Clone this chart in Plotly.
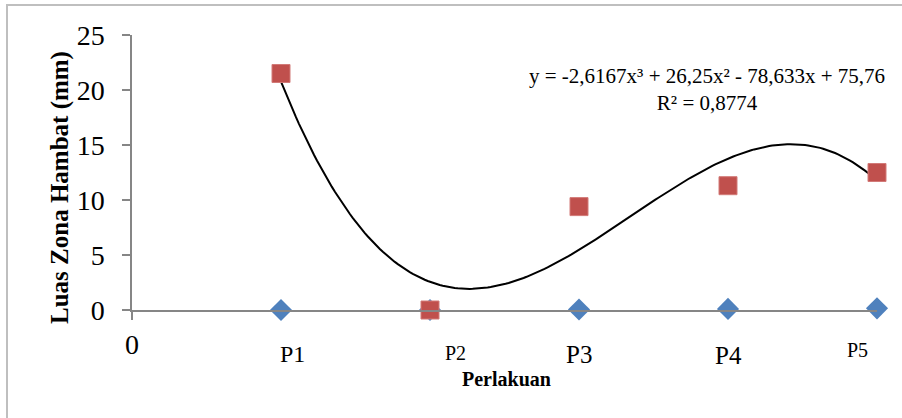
import numpy as np
import plotly.graph_objects as go

# ---- data ----
x_pos = [1, 2, 3, 4, 5]
categories = ["P1", "P2", "P3", "P4", "P5"]
kontrol = [0, 0, 0.05, 0.1, 0.15]          # blue diamonds
luas_zona = [21.5, 0, 9.4, 11.3, 12.5]      # red squares
trend_coef = [-2.6167, 26.25, -78.633, 75.76]  # cubic trendline, as printed
eq_text = "y = -2,6167x³ + 26,25x² - 78,633x + 75,76<br>R² = 0,8774"
y_ticks = [0, 5, 10, 15, 20, 25]

serif = "Liberation Serif, Times New Roman, serif"

fig = go.Figure()

xt = np.linspace(1, 5, 200)
fig.add_trace(go.Scatter(x=xt, y=np.polyval(trend_coef, xt), mode="lines",
                         line=dict(color="black", width=2), hoverinfo="skip",
                         showlegend=False))
fig.add_trace(go.Scatter(x=x_pos, y=kontrol, mode="markers",
                         marker=dict(symbol="diamond", size=17, color="#4F81BD",
                                     line=dict(width=0)),
                         showlegend=False, cliponaxis=False))
fig.add_trace(go.Scatter(x=x_pos, y=luas_zona, mode="markers",
                         marker=dict(symbol="square", size=18, color="#C0504D",
                                     line=dict(width=1, color="#D27a78")),
                         showlegend=False, cliponaxis=False))

fig.update_layout(
    width=902, height=418,
    margin=dict(l=132, r=25, t=35, b=108),
    plot_bgcolor="white", paper_bgcolor="white",
    font=dict(family=serif, color="black"),
    xaxis=dict(range=[0, 5], showgrid=False, zeroline=False, showline=True,
               linecolor="#868686", linewidth=1.5, tickvals=[0], ticks="outside",
               ticklen=8, tickcolor="#868686", tickwidth=1.5,
               showticklabels=False),
    yaxis=dict(range=[0, 25], showgrid=False, zeroline=False, showline=True,
               linecolor="#868686", linewidth=1.5, tickvals=y_ticks,
               ticks="outside", ticklen=8, tickcolor="#868686", tickwidth=1.5,
               tickfont=dict(family=serif, size=28), ticklabelstandoff=12),
)

# y-axis title
fig.add_annotation(x=(60 - 132) / 745, xref="paper", y=(310 - 188) / 275, yref="paper",
                   text="<b>Luas Zona Hambat (mm)</b>", textangle=-90, showarrow=False,
                   font=dict(size=25, family=serif), xanchor="center", yanchor="middle")

# category labels (drawn as in the original, with varying sizes/offsets)
label_specs = [(0.08, 354, 24), (0.17, 353, 20), (0, 354, 25), (0, 355, 25), (-0.13, 350, 20)]
for xv, cat, (dx, py, fs) in zip(x_pos, categories, label_specs):
    fig.add_annotation(x=xv + dx, xref="x", y=(310 - py) / 275, yref="paper",
                       text=cat, showarrow=False, font=dict(size=fs, family=serif),
                       xanchor="center", yanchor="middle")
fig.add_annotation(x=0, xref="x", y=(310 - 344) / 275, yref="paper", text="0",
                   showarrow=False, font=dict(size=28, family=serif),
                   xanchor="center", yanchor="middle")
fig.add_annotation(x=(506 - 132) / 745, xref="paper", y=(310 - 379) / 275, yref="paper",
                   text="<b>Perlakuan</b>", showarrow=False,
                   font=dict(size=20, family=serif), xanchor="center", yanchor="middle")
fig.add_annotation(x=(707 - 132) / 745, xref="paper", y=(310 - 90) / 275, yref="paper",
                   text=eq_text, showarrow=False, align="center",
                   font=dict(size=21, family=serif), xanchor="center", yanchor="middle")

# outer chart border
fig.add_shape(type="rect", xref="paper", yref="paper",
              x0=(7 - 132) / 745, x1=1.2, y0=-0.5, y1=1 + (35 - 5) / 275,
              line=dict(color="#BFBFBF", width=2), layer="below")

fig.write_html("out.html", config={"displayModeBar": False},
               post_script="document.body.style.margin='0';document.body.style.overflow='hidden';")
